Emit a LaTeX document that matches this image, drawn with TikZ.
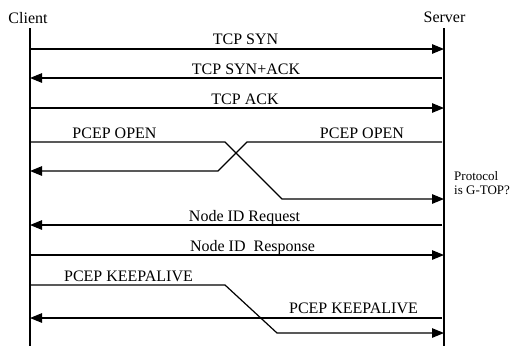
\documentclass[tikz,border=0pt]{standalone}
\usepackage{fontspec}
\setmainfont{Liberation Serif}
\usetikzlibrary{arrows.meta}
\begin{document}
\begin{tikzpicture}[x=1pt,y=-1pt,
  lifeline/.style={line width=1.3pt},
  msg/.style={line width=1.2pt},
  tomsg/.style={msg,-{Triangle[length=12pt,width=9.5pt]}},
  backmsg/.style={msg,-{Triangle[length=12pt,width=9.5pt]},shorten <=2pt},
  lbl/.style={anchor=base,inner sep=0pt,font=\fontsize{16}{18}\selectfont},
  head/.style={anchor=base,inner sep=0pt,font=\fontsize{16}{18}\selectfont},
  note/.style={anchor=base west,inner sep=0pt,align=left,
    font=\fontsize{13}{13.5}\selectfont}]
\useasboundingbox (0,0) rectangle (510,346);

% participants and lifelines
\node[head] (client) at (28,23) {Client};
\node[head] (server) at (444.5,22) {Server};
\coordinate (ctop) at (30,28);
\coordinate (cbot) at (30,346);
\coordinate (stop) at (444,28);
\coordinate (sbot) at (444,346);
\draw[lifeline] (ctop) -- (cbot);
\draw[lifeline] (stop) -- (sbot);

% TCP handshake
\coordinate (c1) at (30,49);  \coordinate (s1) at (444,49);
\coordinate (c2) at (30,78);  \coordinate (s2) at (444,78);
\coordinate (c3) at (30,108); \coordinate (s3) at (444,108);
\draw[tomsg] (c1) -- (s1);
\draw[backmsg] (s2) -- (c2);
\draw[tomsg] (c3) -- (s3);
\node[lbl] (syn) at (245.5,44) {TCP SYN};
\node[lbl] (synack) at (246,74) {TCP SYN+ACK};
\node[lbl] (ack) at (245,104) {TCP ACK};

% crossing PCEP OPEN messages
\coordinate (c4) at (30,142);  \coordinate (k4a) at (225,142);
\coordinate (k4b) at (282,199); \coordinate (s4) at (444,199);
\draw[tomsg] (c4) -- (k4a) -- (k4b) -- (s4);
\coordinate (s5) at (444,142); \coordinate (k5a) at (247,142);
\coordinate (k5b) at (218,171); \coordinate (c5) at (30,171);
\draw[backmsg] (s5) -- (k5a) -- (k5b) -- (c5);
\node[lbl] (openc) at (114.5,138) {PCEP OPEN};
\node[lbl] (opens) at (362,138) {PCEP OPEN};
\node[note] (check) at (454,194) {Protocol\\is G-TOP?};

% node identification
\coordinate (c6) at (30,225);  \coordinate (s6) at (444,225);
\coordinate (c7) at (30,255);  \coordinate (s7) at (444,255);
\draw[backmsg] (s6) -- (c6);
\draw[tomsg] (c7) -- (s7);
\node[lbl] (req) at (244.5,221) {Node ID Request};
\node[lbl] (resp) at (252.5,251) {Node ID\ \ Response};

% keepalive exchange
\coordinate (c8) at (30,285);  \coordinate (k8a) at (225,285);
\coordinate (k8b) at (277,333); \coordinate (s8) at (444,333);
\draw[tomsg] (c8) -- (k8a) -- (k8b) -- (s8);
\coordinate (s9) at (444,318); \coordinate (c9) at (30,318);
\draw[backmsg] (s9) -- (c9);
\node[lbl] (kac) at (128.5,281) {PCEP KEEPALIVE};
\node[lbl] (kas) at (353.5,313) {PCEP KEEPALIVE};
\end{tikzpicture}
\end{document}
